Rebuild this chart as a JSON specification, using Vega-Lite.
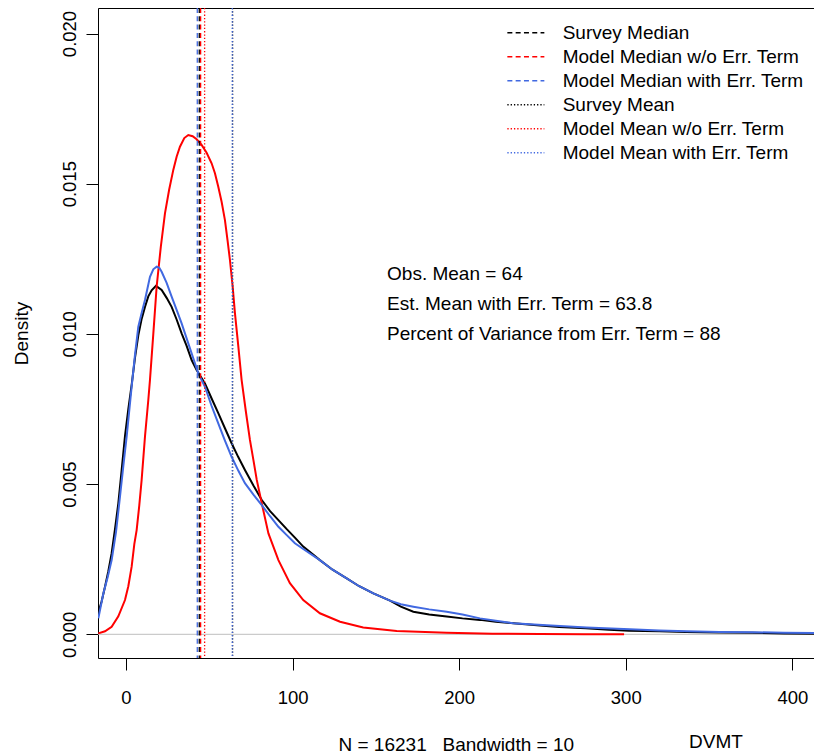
{
  "$schema": "https://vega.github.io/schema/vega-lite/v6.json",
  "width": 717,
  "height": 650,
  "autosize": "none",
  "padding": {"left": 98, "top": 8, "right": 0, "bottom": 97},
  "background": "white",
  "config": {
    "font": "Liberation Sans",
    "view": {"stroke": "black", "strokeWidth": 1},
    "axis": {"labelColor": "black", "titleColor": "black", "tickColor": "black", "labelFont": "Liberation Sans", "titleFont": "Liberation Sans"}
  },
  "title": {"text": "DVMT", "orient": "bottom", "anchor": "start", "dx": 591, "offset": -21, "fontSize": 19, "fontWeight": "normal", "color": "black", "font": "Liberation Sans", "frame": "group"},
  "datasets": {
    "curves": [
      {"model": "Survey", "x": -16.6, "d": 0.00072},
      {"model": "Survey", "x": -14.6, "d": 0.0011},
      {"model": "Survey", "x": -12.6, "d": 0.00158},
      {"model": "Survey", "x": -10.6, "d": 0.0021},
      {"model": "Survey", "x": -8.6, "d": 0.0027},
      {"model": "Survey", "x": -6.6, "d": 0.0035},
      {"model": "Survey", "x": -4.6, "d": 0.00436},
      {"model": "Survey", "x": -2.6, "d": 0.00547},
      {"model": "Survey", "x": -0.6, "d": 0.0066},
      {"model": "Survey", "x": 1.4, "d": 0.0075},
      {"model": "Survey", "x": 3.4, "d": 0.0083},
      {"model": "Survey", "x": 5.4, "d": 0.0092},
      {"model": "Survey", "x": 7.4, "d": 0.00995},
      {"model": "Survey", "x": 9.4, "d": 0.0105},
      {"model": "Survey", "x": 11.4, "d": 0.0109},
      {"model": "Survey", "x": 13.4, "d": 0.01125},
      {"model": "Survey", "x": 15.4, "d": 0.01145},
      {"model": "Survey", "x": 18.0, "d": 0.0116},
      {"model": "Survey", "x": 21.4, "d": 0.01146},
      {"model": "Survey", "x": 24.4, "d": 0.0112},
      {"model": "Survey", "x": 27.4, "d": 0.0109},
      {"model": "Survey", "x": 30.4, "d": 0.01048},
      {"model": "Survey", "x": 33.4, "d": 0.01002},
      {"model": "Survey", "x": 36.4, "d": 0.0096},
      {"model": "Survey", "x": 39.4, "d": 0.00913},
      {"model": "Survey", "x": 42.4, "d": 0.0088},
      {"model": "Survey", "x": 47.4, "d": 0.00835},
      {"model": "Survey", "x": 51.4, "d": 0.00785},
      {"model": "Survey", "x": 55.4, "d": 0.00736},
      {"model": "Survey", "x": 59.4, "d": 0.00686},
      {"model": "Survey", "x": 63.4, "d": 0.00636},
      {"model": "Survey", "x": 67.4, "d": 0.0059},
      {"model": "Survey", "x": 71.4, "d": 0.00547},
      {"model": "Survey", "x": 76.5, "d": 0.00495},
      {"model": "Survey", "x": 81.5, "d": 0.00447},
      {"model": "Survey", "x": 86.5, "d": 0.0041},
      {"model": "Survey", "x": 91.5, "d": 0.0038},
      {"model": "Survey", "x": 96.5, "d": 0.0035},
      {"model": "Survey", "x": 101.4, "d": 0.00322},
      {"model": "Survey", "x": 106.4, "d": 0.00292},
      {"model": "Survey", "x": 116.4, "d": 0.00247},
      {"model": "Survey", "x": 124, "d": 0.00215},
      {"model": "Survey", "x": 132.5, "d": 0.00186},
      {"model": "Survey", "x": 140, "d": 0.0016},
      {"model": "Survey", "x": 148.5, "d": 0.00136},
      {"model": "Survey", "x": 158.5, "d": 0.00112},
      {"model": "Survey", "x": 165, "d": 0.00092},
      {"model": "Survey", "x": 172.5, "d": 0.00075},
      {"model": "Survey", "x": 182, "d": 0.00066},
      {"model": "Survey", "x": 192.5, "d": 0.00059},
      {"model": "Survey", "x": 202, "d": 0.00053},
      {"model": "Survey", "x": 212.5, "d": 0.00048},
      {"model": "Survey", "x": 222, "d": 0.00042},
      {"model": "Survey", "x": 232.5, "d": 0.00037},
      {"model": "Survey", "x": 248.5, "d": 0.00029},
      {"model": "Survey", "x": 260, "d": 0.00024},
      {"model": "Survey", "x": 276, "d": 0.0002},
      {"model": "Survey", "x": 290, "d": 0.00015},
      {"model": "Survey", "x": 302, "d": 0.00012},
      {"model": "Survey", "x": 320, "d": 0.0001},
      {"model": "Survey", "x": 336, "d": 0.00008},
      {"model": "Survey", "x": 356, "d": 0.00006},
      {"model": "Survey", "x": 376, "d": 0.00005},
      {"model": "Survey", "x": 395, "d": 0.00003},
      {"model": "Survey", "x": 413, "d": 0.00002},
      {"model": "Model w/o Err. Term", "x": -16.6, "d": 0.00003},
      {"model": "Model w/o Err. Term", "x": -12.6, "d": 0.0001},
      {"model": "Model w/o Err. Term", "x": -8.6, "d": 0.00025},
      {"model": "Model w/o Err. Term", "x": -4.6, "d": 0.0006},
      {"model": "Model w/o Err. Term", "x": -0.6, "d": 0.00114},
      {"model": "Model w/o Err. Term", "x": 1.4, "d": 0.0016},
      {"model": "Model w/o Err. Term", "x": 3.4, "d": 0.00225},
      {"model": "Model w/o Err. Term", "x": 5.0, "d": 0.003},
      {"model": "Model w/o Err. Term", "x": 6.4, "d": 0.00347},
      {"model": "Model w/o Err. Term", "x": 8.0, "d": 0.0043},
      {"model": "Model w/o Err. Term", "x": 9.4, "d": 0.00514},
      {"model": "Model w/o Err. Term", "x": 11.4, "d": 0.00658},
      {"model": "Model w/o Err. Term", "x": 13.4, "d": 0.0078},
      {"model": "Model w/o Err. Term", "x": 14.4, "d": 0.00847},
      {"model": "Model w/o Err. Term", "x": 16.4, "d": 0.01},
      {"model": "Model w/o Err. Term", "x": 18.4, "d": 0.01157},
      {"model": "Model w/o Err. Term", "x": 20.9, "d": 0.0129},
      {"model": "Model w/o Err. Term", "x": 23.4, "d": 0.01401},
      {"model": "Model w/o Err. Term", "x": 25.9, "d": 0.0148},
      {"model": "Model w/o Err. Term", "x": 28.4, "d": 0.01546},
      {"model": "Model w/o Err. Term", "x": 30.4, "d": 0.0159},
      {"model": "Model w/o Err. Term", "x": 32.4, "d": 0.01623},
      {"model": "Model w/o Err. Term", "x": 35.0, "d": 0.01652},
      {"model": "Model w/o Err. Term", "x": 37.4, "d": 0.01662},
      {"model": "Model w/o Err. Term", "x": 40.0, "d": 0.01658},
      {"model": "Model w/o Err. Term", "x": 42.4, "d": 0.01648},
      {"model": "Model w/o Err. Term", "x": 45.4, "d": 0.01629},
      {"model": "Model w/o Err. Term", "x": 48.4, "d": 0.01603},
      {"model": "Model w/o Err. Term", "x": 51.4, "d": 0.01568},
      {"model": "Model w/o Err. Term", "x": 53.4, "d": 0.01535},
      {"model": "Model w/o Err. Term", "x": 55.4, "d": 0.0149},
      {"model": "Model w/o Err. Term", "x": 57.4, "d": 0.0144},
      {"model": "Model w/o Err. Term", "x": 59.4, "d": 0.01379},
      {"model": "Model w/o Err. Term", "x": 61.0, "d": 0.0131},
      {"model": "Model w/o Err. Term", "x": 62.4, "d": 0.01246},
      {"model": "Model w/o Err. Term", "x": 64.0, "d": 0.0116},
      {"model": "Model w/o Err. Term", "x": 65.4, "d": 0.01069},
      {"model": "Model w/o Err. Term", "x": 67.4, "d": 0.0096},
      {"model": "Model w/o Err. Term", "x": 69.4, "d": 0.00847},
      {"model": "Model w/o Err. Term", "x": 72.0, "d": 0.0074},
      {"model": "Model w/o Err. Term", "x": 74.4, "d": 0.00647},
      {"model": "Model w/o Err. Term", "x": 76.5, "d": 0.0058},
      {"model": "Model w/o Err. Term", "x": 78.5, "d": 0.00514},
      {"model": "Model w/o Err. Term", "x": 81.5, "d": 0.00436},
      {"model": "Model w/o Err. Term", "x": 85.5, "d": 0.00336},
      {"model": "Model w/o Err. Term", "x": 91.5, "d": 0.00247},
      {"model": "Model w/o Err. Term", "x": 98.4, "d": 0.0017},
      {"model": "Model w/o Err. Term", "x": 106.4, "d": 0.00114},
      {"model": "Model w/o Err. Term", "x": 116.4, "d": 0.0007},
      {"model": "Model w/o Err. Term", "x": 128.5, "d": 0.00042},
      {"model": "Model w/o Err. Term", "x": 142.4, "d": 0.00023},
      {"model": "Model w/o Err. Term", "x": 162.5, "d": 0.00011},
      {"model": "Model w/o Err. Term", "x": 192.5, "d": 0.00005},
      {"model": "Model w/o Err. Term", "x": 220, "d": 0.00002},
      {"model": "Model w/o Err. Term", "x": 248.5, "d": 0.00001},
      {"model": "Model w/o Err. Term", "x": 275, "d": 0.000005},
      {"model": "Model w/o Err. Term", "x": 299, "d": 0.000003},
      {"model": "Model with Err. Term", "x": -16.6, "d": 0.00053},
      {"model": "Model with Err. Term", "x": -13.6, "d": 0.00136},
      {"model": "Model with Err. Term", "x": -11.0, "d": 0.0019},
      {"model": "Model with Err. Term", "x": -8.6, "d": 0.00247},
      {"model": "Model with Err. Term", "x": -6.0, "d": 0.0034},
      {"model": "Model with Err. Term", "x": -3.6, "d": 0.00458},
      {"model": "Model with Err. Term", "x": -1.6, "d": 0.0056},
      {"model": "Model with Err. Term", "x": 0.4, "d": 0.00658},
      {"model": "Model with Err. Term", "x": 3.4, "d": 0.00824},
      {"model": "Model with Err. Term", "x": 5.4, "d": 0.0093},
      {"model": "Model with Err. Term", "x": 7.4, "d": 0.01024},
      {"model": "Model with Err. Term", "x": 9.4, "d": 0.0107},
      {"model": "Model with Err. Term", "x": 11.4, "d": 0.01113},
      {"model": "Model with Err. Term", "x": 14.4, "d": 0.0119},
      {"model": "Model with Err. Term", "x": 16.4, "d": 0.01215},
      {"model": "Model with Err. Term", "x": 18.4, "d": 0.01224},
      {"model": "Model with Err. Term", "x": 20.0, "d": 0.0122},
      {"model": "Model with Err. Term", "x": 21.4, "d": 0.01207},
      {"model": "Model with Err. Term", "x": 24.4, "d": 0.0117},
      {"model": "Model with Err. Term", "x": 27.4, "d": 0.01124},
      {"model": "Model with Err. Term", "x": 30.4, "d": 0.0108},
      {"model": "Model with Err. Term", "x": 33.4, "d": 0.01035},
      {"model": "Model with Err. Term", "x": 36.4, "d": 0.00985},
      {"model": "Model with Err. Term", "x": 39.4, "d": 0.00935},
      {"model": "Model with Err. Term", "x": 43.4, "d": 0.00869},
      {"model": "Model with Err. Term", "x": 47.4, "d": 0.00824},
      {"model": "Model with Err. Term", "x": 51.4, "d": 0.0076},
      {"model": "Model with Err. Term", "x": 55.4, "d": 0.00702},
      {"model": "Model with Err. Term", "x": 59.4, "d": 0.00645},
      {"model": "Model with Err. Term", "x": 63.4, "d": 0.00591},
      {"model": "Model with Err. Term", "x": 67.4, "d": 0.00545},
      {"model": "Model with Err. Term", "x": 71.4, "d": 0.00503},
      {"model": "Model with Err. Term", "x": 76.5, "d": 0.00465},
      {"model": "Model with Err. Term", "x": 81.5, "d": 0.0043},
      {"model": "Model with Err. Term", "x": 86.5, "d": 0.00393},
      {"model": "Model with Err. Term", "x": 91.5, "d": 0.00358},
      {"model": "Model with Err. Term", "x": 96.5, "d": 0.0033},
      {"model": "Model with Err. Term", "x": 101.4, "d": 0.00303},
      {"model": "Model with Err. Term", "x": 106.4, "d": 0.00284},
      {"model": "Model with Err. Term", "x": 116.4, "d": 0.00247},
      {"model": "Model with Err. Term", "x": 124, "d": 0.00215},
      {"model": "Model with Err. Term", "x": 132.5, "d": 0.00186},
      {"model": "Model with Err. Term", "x": 140, "d": 0.0016},
      {"model": "Model with Err. Term", "x": 148.5, "d": 0.00136},
      {"model": "Model with Err. Term", "x": 158.5, "d": 0.00112},
      {"model": "Model with Err. Term", "x": 165, "d": 0.001},
      {"model": "Model with Err. Term", "x": 172.5, "d": 0.00092},
      {"model": "Model with Err. Term", "x": 182, "d": 0.00083},
      {"model": "Model with Err. Term", "x": 192.5, "d": 0.00075},
      {"model": "Model with Err. Term", "x": 202, "d": 0.00066},
      {"model": "Model with Err. Term", "x": 212.5, "d": 0.00053},
      {"model": "Model with Err. Term", "x": 222, "d": 0.00045},
      {"model": "Model with Err. Term", "x": 232.5, "d": 0.00037},
      {"model": "Model with Err. Term", "x": 252.5, "d": 0.0003},
      {"model": "Model with Err. Term", "x": 276.5, "d": 0.00023},
      {"model": "Model with Err. Term", "x": 302.5, "d": 0.00017},
      {"model": "Model with Err. Term", "x": 320, "d": 0.00013},
      {"model": "Model with Err. Term", "x": 336.6, "d": 0.0001},
      {"model": "Model with Err. Term", "x": 356, "d": 0.00008},
      {"model": "Model with Err. Term", "x": 376.5, "d": 0.00007},
      {"model": "Model with Err. Term", "x": 395, "d": 0.00005},
      {"model": "Model with Err. Term", "x": 413, "d": 0.00004}
    ],
    "stats": [
      {"series": "Survey Median", "x": 44.0},
      {"series": "Model Median w/o Err. Term", "x": 44.8},
      {"series": "Model Median with Err. Term", "x": 42.8},
      {"series": "Survey Mean", "x": 64.0},
      {"series": "Model Mean w/o Err. Term", "x": 47.2},
      {"series": "Model Mean with Err. Term", "x": 63.8}
    ],
    "notes": [
      {"label": "Obs. Mean = 64", "tx": 156.7, "ty": 0.012},
      {"label": "Est. Mean with Err. Term = 63.8", "tx": 156.7, "ty": 0.011},
      {"label": "Percent of Variance from Err. Term = 88", "tx": 156.7, "ty": 0.010}
    ],
    "zero": [{"h": 0}]
  },
  "encoding": {
    "x": {"field": "x", "type": "quantitative",
      "scale": {"domain": [-16.8, 413.6], "nice": false, "zero": false},
      "axis": {"values": [0, 100, 200, 300, 400], "tickSize": 12, "tickWidth": 1, "domain": false, "grid": false,
        "labelFontSize": 18.5, "labelBaseline": "alphabetic", "labelPadding": 33, "labelFlush": false, "labelOverlap": false,
        "title": "N = 16231\u00a0\u00a0 Bandwidth = 10", "titleFontSize": 19, "titleFontWeight": "normal",
        "titleX": 240, "titleY": 92, "titleAlign": "left", "titleAnchor": "start", "titleBaseline": "alphabetic"}}
  },
  "layer": [
    {
      "data": {"name": "zero"},
      "mark": {"type": "rule", "color": "#bebebe", "strokeWidth": 1},
      "encoding": {"x": null, "y": {"field": "h", "type": "quantitative",
          "scale": {"domain": [-0.000789, 0.020849], "nice": false, "zero": false},
          "axis": {"values": [0, 0.005, 0.01, 0.015, 0.02], "format": ".3f", "tickSize": 12, "tickWidth": 1, "domain": false, "grid": false,
            "labelFontSize": 18.5, "labelAngle": 270, "labelAlign": "center", "labelBaseline": "alphabetic", "labelPadding": 11, "labelFlush": false, "labelOverlap": false,
            "title": "Density", "titleFontSize": 19, "titleFontWeight": "normal", "titleAngle": 270,
            "titleX": -71, "titleY": 325, "titleAlign": "center", "titleBaseline": "alphabetic"}}}
    },
    {
      "data": {"name": "curves"},
      "transform": [{"filter": "datum.model === 'Survey'"}],
      "mark": {"type": "line", "strokeWidth": 2, "clip": true, "color": "black"},
      "encoding": {"y": {"field": "d", "type": "quantitative"}}
    },
    {
      "data": {"name": "curves"},
      "transform": [{"filter": "datum.model === 'Model w/o Err. Term'"}],
      "mark": {"type": "line", "strokeWidth": 2, "clip": true, "color": "#ff0000"},
      "encoding": {"y": {"field": "d", "type": "quantitative"}}
    },
    {
      "data": {"name": "curves"},
      "transform": [{"filter": "datum.model === 'Model with Err. Term'"}],
      "mark": {"type": "line", "strokeWidth": 2, "clip": true, "color": "#4169e1"},
      "encoding": {"y": {"field": "d", "type": "quantitative"}}
    },
    {
      "data": {"name": "stats"},
      "mark": {"type": "rule", "strokeWidth": 1.3},
      "encoding": {
        "color": {"field": "series", "type": "nominal",
          "scale": {"domain": ["Survey Median", "Model Median w/o Err. Term", "Model Median with Err. Term", "Survey Mean", "Model Mean w/o Err. Term", "Model Mean with Err. Term"],
            "range": ["black", "#ff0000", "#4169e1", "black", "#ff0000", "#4169e1"]},
          "legend": {"orient": "none", "legendX": 408.35, "legendY": 14, "title": null, "symbolType": "stroke", "symbolSize": 1369, "symbolStrokeWidth": 1.3,
            "labelFontSize": 19, "labelColor": "black", "labelFont": "Liberation Sans", "labelOffset": 17.35, "clipHeight": 21.5, "rowPadding": 2, "padding": 0, "labelLimit": 400}},
        "strokeDash": {"field": "series", "type": "nominal",
          "scale": {"domain": ["Survey Median", "Model Median w/o Err. Term", "Model Median with Err. Term", "Survey Mean", "Model Mean w/o Err. Term", "Model Mean with Err. Term"],
            "range": [[5, 3.3], [5, 3.3], [5, 3.3], [1.3, 2], [1.3, 2], [1.3, 2]]},
          "legend": {"orient": "none", "legendX": 408.35, "legendY": 14, "title": null, "symbolType": "stroke", "symbolSize": 1369, "symbolStrokeWidth": 1.3,
            "labelFontSize": 19, "labelColor": "black", "labelFont": "Liberation Sans", "labelOffset": 17.35, "clipHeight": 21.5, "rowPadding": 2, "padding": 0, "labelLimit": 400}}
      }
    },
    {
      "data": {"name": "notes"},
      "mark": {"type": "text", "align": "left", "baseline": "middle", "fontSize": 19, "color": "black", "font": "Liberation Sans"},
      "encoding": {
        "x": {"field": "tx", "type": "quantitative"},
        "y": {"field": "ty", "type": "quantitative"},
        "text": {"field": "label"}
      }
    }
  ]
}
